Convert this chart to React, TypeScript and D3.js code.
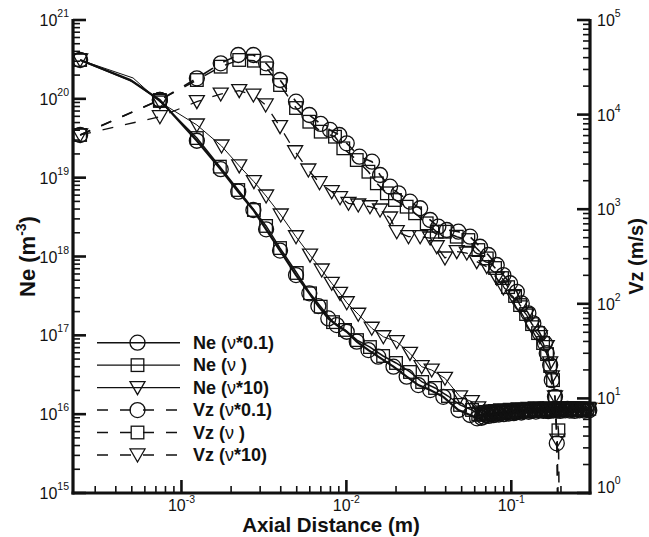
import React from "react";
import * as d3 from "d3";

// ---------- data ----------
// Axial distance (m) / Ne (m^-3); third element 0 = point on line without symbol
const neLow: number[][] = [
  [2.43e-4, 3.11e20], [4.9e-4, 1.73e20, 0], [7.4e-4, 9.66e19], [1.24e-3, 2.94e19],
  [1.73e-3, 1.28e19], [2.21e-3, 6.64e18], [2.73e-3, 3.89e18], [3.26e-3, 2.21e18],
  [3.96e-3, 1.19e18], [4.95e-3, 5.82e17], [5.96e-3, 3.41e17], [6.76e-3, 2.35e17],
  [7.77e-3, 1.64e17], [8.74e-3, 1.35e17], [1.005e-2, 1.11e17], [1.156e-2, 8.3e16],
  [1.36e-2, 6.5e16], [1.56e-2, 5.36e16], [1.93e-2, 4.0e16], [2.32e-2, 2.99e16],
  [2.73e-2, 2.34e16], [3.22e-2, 2.02e16], [3.87e-2, 1.66e16], [4.78e-2, 1.13e16],
  [5.62e-2, 9.76e15], [6.2e-2, 8.86e15],
];
const neMid: number[][] = [
  [2.43e-4, 3.11e20], [5.09e-4, 1.65e20, 0], [7.4e-4, 9.4e19], [1.24e-3, 3.18e19],
  [1.71e-3, 1.38e19], [2.21e-3, 6.97e18], [2.75e-3, 3.89e18], [3.26e-3, 2.44e18],
  [3.96e-3, 1.28e18], [5.0e-3, 6.18e17], [6.02e-3, 3.41e17], [6.99e-3, 2.31e17],
  [8.3e-3, 1.47e17], [9.81e-3, 1.17e17], [1.16e-2, 8.7e16], [1.39e-2, 7.1e16],
  [1.67e-2, 5.47e16], [2.0e-2, 4.46e16], [2.43e-2, 3.43e16], [2.88e-2, 2.56e16],
  [3.45e-2, 2.15e16], [4.13e-2, 1.7e16], [4.89e-2, 1.31e16], [5.78e-2, 1.13e16],
  [6.3e-2, 1.0e16],
];
const neHigh: number[][] = [
  [2.43e-4, 3.11e20], [5.09e-4, 1.84e20, 0], [7.4e-4, 9.1e19], [1.24e-3, 4.66e19],
  [1.75e-3, 2.52e19], [2.24e-3, 1.41e19], [2.75e-3, 8.89e18], [3.26e-3, 5.85e18],
  [4.0e-3, 3.36e18], [4.95e-3, 1.78e18], [6.02e-3, 1.04e18], [7.09e-3, 6.74e17],
  [8.15e-3, 4.57e17], [9.15e-3, 3.41e17], [1.005e-2, 2.59e17], [1.18e-2, 1.85e17],
  [1.425e-2, 1.23e17], [1.675e-2, 9.6e16], [2.02e-2, 8.3e16], [2.43e-2, 5.9e16],
  [2.86e-2, 4.0e16], [3.29e-2, 3.63e16], [3.96e-2, 2.85e16], [4.89e-2, 1.66e16],
  [5.76e-2, 1.44e16], [6.3e-2, 1.2e16],
];
// dense tail region (all three Ne runs), x in m, values in units of 1e16 m^-3
const bandX = [0.066, 0.068, 0.0705, 0.073, 0.0755, 0.078, 0.081, 0.084, 0.087, 0.09,
  0.093, 0.0965, 0.1, 0.1035, 0.107, 0.111, 0.115, 0.119, 0.123, 0.1275,
  0.132, 0.1365, 0.141, 0.146, 0.151, 0.1565, 0.162, 0.1675, 0.173, 0.179,
  0.185, 0.1915, 0.198, 0.205, 0.212, 0.219, 0.2265, 0.234, 0.242, 0.25,
  0.259, 0.268, 0.277, 0.287, 0.297];
const neLowBand = [0.9, 0.93, 0.97, 0.95, 1.0, 0.97, 1.02, 0.99, 1.04, 1.0,
  1.06, 1.02, 1.08, 1.03, 1.06, 1.1, 1.05, 1.09, 1.12, 1.07,
  1.1, 1.13, 1.08, 1.12, 1.15, 1.1, 1.13, 1.09, 1.14, 1.11,
  1.16, 1.12, 1.1, 1.15, 1.12, 1.17, 1.11, 1.14, 1.1, 1.16,
  1.12, 1.15, 1.11, 1.14, 1.12];
const neMidBand = [0.98, 1.02, 0.99, 1.05, 1.01, 1.07, 1.03, 1.08, 1.04, 1.1,
  1.06, 1.11, 1.05, 1.09, 1.13, 1.07, 1.11, 1.08, 1.14, 1.1,
  1.12, 1.16, 1.1, 1.14, 1.11, 1.17, 1.12, 1.15, 1.1, 1.16,
  1.13, 1.18, 1.12, 1.15, 1.19, 1.13, 1.16, 1.12, 1.17, 1.14,
  1.18, 1.13, 1.16, 1.14, 1.17];
const neHighBand = [1.06, 1.01, 1.08, 1.04, 1.1, 1.05, 1.11, 1.07, 1.13, 1.08,
  1.12, 1.09, 1.15, 1.1, 1.13, 1.17, 1.11, 1.15, 1.12, 1.18,
  1.13, 1.16, 1.2, 1.14, 1.17, 1.12, 1.18, 1.15, 1.2, 1.14,
  1.17, 1.13, 1.19, 1.15, 1.18, 1.21, 1.15, 1.19, 1.14, 1.18,
  1.16, 1.2, 1.15, 1.18, 1.16];

// Axial distance (m) / Vz (m/s)
const vzLow: number[][] = [
  [2.43e-4, 6090], [7.4e-4, 14270], [1.24e-3, 24200], [1.73e-3, 34850], [2.21e-3, 42660],
  [2.73e-3, 42660], [3.26e-3, 34850], [3.96e-3, 23220], [4.95e-3, 13690], [5.96e-3, 9900],
  [6.99e-3, 7960], [7.96e-3, 6880], [9.06e-3, 6090], [1.005e-2, 4975], [1.2e-2, 3590],
  [1.43e-2, 3177], [1.6e-2, 2299], [1.84e-2, 1729], [2.07e-2, 1472], [2.43e-2, 1200],
  [2.8e-2, 1023], [3.22e-2, 769], [3.61e-2, 653], [4.06e-2, 603], [4.78e-2, 578],
  [5.62e-2, 512], [6.46e-2, 401], [7.26e-2, 328], [8.16e-2, 257], [8.95e-2, 201],
  [9.83e-2, 165], [0.108, 134], [0.1157, 101], [0.1269, 79.4], [0.136, 62.2],
  [0.149, 48.8], [0.16, 38.2], [0.164, 30], [0.172, 22.5], [0.176, 15.6],
  [0.184, 10.4], [0.1887, 3.35], [0.192, 0.3, 0],
];
const vzMid: number[][] = [
  [2.43e-4, 6090], [7.4e-4, 14270], [1.24e-3, 23200], [1.73e-3, 32100], [2.24e-3, 37800],
  [2.75e-3, 37150], [3.29e-3, 30860], [3.96e-3, 20550], [4.95e-3, 11740], [5.96e-3, 8410],
  [6.99e-3, 6600], [8.53e-3, 5840], [9.58e-3, 4400], [1.156e-2, 3310], [1.36e-2, 2490],
  [1.53e-2, 1878], [1.76e-2, 1472], [1.97e-2, 1251], [2.32e-2, 1063], [2.61e-2, 905],
  [3.07e-2, 709], [3.53e-2, 578], [3.96e-2, 578], [4.67e-2, 512], [5.49e-2, 472],
  [6.31e-2, 370], [7.1e-2, 302], [7.97e-2, 239], [8.79e-2, 187], [9.56e-2, 150],
  [0.1054, 121], [0.113, 97], [0.1229, 78], [0.1336, 61], [0.1453, 49],
  [0.1558, 38.5], [0.1647, 29.4], [0.172, 22], [0.179, 15.6], [0.184, 10.4],
  [0.193, 4.6], [0.196, 0.3, 0],
];
const vzHigh: number[][] = [
  [2.43e-4, 6090], [7.4e-4, 9500], [1.24e-3, 13690], [1.73e-3, 16500], [2.24e-3, 17900],
  [2.73e-3, 16100], [3.24e-3, 12640], [3.96e-3, 7450], [4.89e-3, 4050], [5.88e-3, 2596],
  [6.87e-3, 1905], [8.15e-3, 1531], [9.15e-3, 1323], [1.03e-2, 1154], [1.18e-2, 1108],
  [1.39e-2, 1062], [1.6e-2, 981], [1.84e-2, 807], [2.02e-2, 578], [2.38e-2, 512],
  [2.8e-2, 512], [3.22e-2, 496], [3.53e-2, 401], [3.96e-2, 305], [4.67e-2, 356],
  [5.37e-2, 344], [6.17e-2, 279], [7.1e-2, 247], [8.16e-2, 187], [8.95e-2, 147],
  [0.1025, 119], [0.113, 93], [0.124, 76], [0.1336, 57], [0.149, 44.9],
  [0.164, 35.2], [0.172, 23.7], [0.176, 16.9], [0.184, 10.4], [0.19, 3.63],
  [0.194, 0.3, 0],
];

const legendLabels = ["Ne", "Ne", "Ne", "Vz", "Vz", "Vz"];
const legendFactors = ["*0.1", " ", "*10", "*0.1", " ", "*10"];

// ---------- layout ----------
const W = 649, H = 537;
const L = 73, R = 590, T = 20, B = 493;
const FONT = "'Liberation Sans', Arial, Helvetica, sans-serif";
const INK = "#111";

const x = d3.scaleLog().domain([2.2e-4, 0.3]).range([L, R]);
const yL = d3.scaleLog().domain([1e15, 1e21]).range([B, T]);
const yR = d3.scaleLog().domain([1, 1e5]).range([B, T]);

function logTicks(lo: number, hi: number) {
  const out: { v: number; major: boolean; e: number }[] = [];
  for (let e = Math.floor(Math.log10(lo)); e <= Math.ceil(Math.log10(hi)); e++) {
    for (let k = 1; k <= 9; k++) {
      const v = k * Math.pow(10, e);
      if (v >= lo * 0.9999 && v <= hi * 1.0001) out.push({ v, major: k === 1, e });
    }
  }
  return out;
}

type Shape = "circle" | "square" | "tri";
function Marker({ cx, cy, shape }: { cx: number; cy: number; shape: Shape }) {
  const common = { fill: "none", stroke: INK, strokeWidth: 1.3 };
  if (shape === "circle") return <circle cx={cx} cy={cy} r={7.5} {...common} />;
  if (shape === "square") return <rect x={cx - 6.3} y={cy - 6.3} width={12.6} height={12.6} {...common} />;
  return <path d={`M${cx - 7.5},${cy - 6}L${cx + 7.5},${cy - 6}L${cx},${cy + 7}Z`} {...common} />;
}

function withBand(base: number[][], band: number[]) {
  return base.concat(bandX.map((bx, i) => [bx, band[i] * 1e16]));
}

export default function App() {
  const series = [
    { data: withBand(neLow, neLowBand), y: yL, shape: "circle" as Shape, dash: "", w: 2.2 },
    { data: withBand(neMid, neMidBand), y: yL, shape: "square" as Shape, dash: "", w: 1.5 },
    { data: withBand(neHigh, neHighBand), y: yL, shape: "tri" as Shape, dash: "", w: 1 },
    { data: vzLow, y: yR, shape: "circle" as Shape, dash: "11,12", w: 1.6 },
    { data: vzMid, y: yR, shape: "square" as Shape, dash: "11,12", w: 1.5 },
    { data: vzHigh, y: yR, shape: "tri" as Shape, dash: "11,12", w: 1.3 },
  ];

  const xt = logTicks(2.2e-4, 0.3);
  const ylt = logTicks(1e15, 1e21);
  const yrt = logTicks(1, 1e5);

  const legY0 = 342.7, legDy = 22.45;

  return (
    <svg width={W} height={H} style={{ position: "absolute", left: 0, top: 0, background: "#fff" }}
      fontFamily={FONT}>
      <rect x={0} y={0} width={W} height={H} fill="#fff" />
      <defs>
        <clipPath id="plotclip">
          <rect x={L} y={T - 10} width={R - L + 10} height={B - T + 10} />
        </clipPath>
      </defs>

      {/* series */}
      <g clipPath="url(#plotclip)">
        {series.map((s, si) => {
          const line = d3.line<number[]>().x((d) => x(d[0])).y((d) => s.y(Math.max(d[1], 1e-3)));
          return (
            <g key={si}>
              <path d={line(s.data) || ""} fill="none" stroke={INK} strokeWidth={s.w}
                strokeDasharray={s.dash || undefined} />
              {s.data.filter((d) => d[2] !== 0).map((d, i) => (
                <Marker key={i} cx={x(d[0])} cy={s.y(d[1])} shape={s.shape} />
              ))}
            </g>
          );
        })}
      </g>

      {/* axes lines */}
      <line x1={L} y1={T - 1} x2={L} y2={B + 1.5} stroke={INK} strokeWidth={3.2} />
      <line x1={R} y1={T - 1} x2={R} y2={B + 1.5} stroke={INK} strokeWidth={3.2} />
      <line x1={L - 1.5} y1={B} x2={R + 1.5} y2={B} stroke={INK} strokeWidth={3.2} />

      {/* x ticks */}
      {xt.map((t, i) => (
        <line key={"xt" + i} x1={x(t.v)} x2={x(t.v)} y1={B} y2={B - (t.major ? 13 : 7)} stroke={INK}
          strokeWidth={t.major ? 2.6 : 1.6} />
      ))}
      {xt.filter((t) => t.major).map((t, i) => (
        <text key={"xl" + i} x={x(t.v)} y={511} textAnchor="middle" fontSize={16} fill={INK}>
          10<tspan dy={-8} fontSize={10.5}>{t.e}</tspan>
        </text>
      ))}

      {/* left ticks */}
      {ylt.map((t, i) => (
        <line key={"ylt" + i} x1={L} x2={L + (t.major ? 13 : 7)} y1={yL(t.v)} y2={yL(t.v)} stroke={INK}
          strokeWidth={t.major ? 2.6 : 1.6} />
      ))}
      {ylt.filter((t) => t.major).map((t, i) => (
        <text key={"yll" + i} x={69} y={yL(t.v) + 6} textAnchor="end" fontSize={16} fill={INK}>
          10<tspan dy={-9} fontSize={10.5}>{t.e}</tspan>
        </text>
      ))}

      {/* right ticks */}
      {yrt.map((t, i) => (
        <line key={"yrt" + i} x1={R} x2={R - (t.major ? 13 : 7)} y1={yR(t.v)} y2={yR(t.v)} stroke={INK}
          strokeWidth={t.major ? 2.6 : 1.6} />
      ))}
      {yrt.filter((t) => t.major).map((t, i) => (
        <text key={"yrl" + i} x={597} y={yR(t.v) + 6 - (t.e === 0 ? 6 : 0)} textAnchor="start" fontSize={16} fill={INK}>
          10<tspan dy={-9} fontSize={10.5}>{t.e}</tspan>
        </text>
      ))}

      {/* axis titles */}
      <text x={331} y={532} textAnchor="middle" fontSize={20.5} fontWeight="bold" fill={INK}>
        Axial Distance (m)
      </text>
      <text transform={`translate(35,${(T + B) / 2}) rotate(-90)`} textAnchor="middle" fontSize={22}
        fontWeight="bold" fill={INK}>
        Ne (m<tspan dy={-9} fontSize={14}>-3</tspan><tspan dy={9}>)</tspan>
      </text>
      <text transform={`translate(643,${(T + B) / 2}) rotate(-90)`} textAnchor="middle" fontSize={20}
        fontWeight="bold" fill={INK}>
        Vz (m/s)
      </text>

      {/* legend */}
      {series.map((s, i) => {
        const ly = legY0 + i * legDy;
        return (
          <g key={"lg" + i}>
            <line x1={97} x2={180} y1={ly} y2={ly} stroke={INK} strokeWidth={1.4}
              strokeDasharray={s.dash || undefined} />
            <Marker cx={137.5} cy={ly} shape={s.shape} />
            <text x={193} y={ly + 6} fontSize={18} fontWeight="bold" fill={INK}>
              {legendLabels[i]} (<tspan fontWeight="normal">ν</tspan>{legendFactors[i]})
            </text>
          </g>
        );
      })}
    </svg>
  );
}
